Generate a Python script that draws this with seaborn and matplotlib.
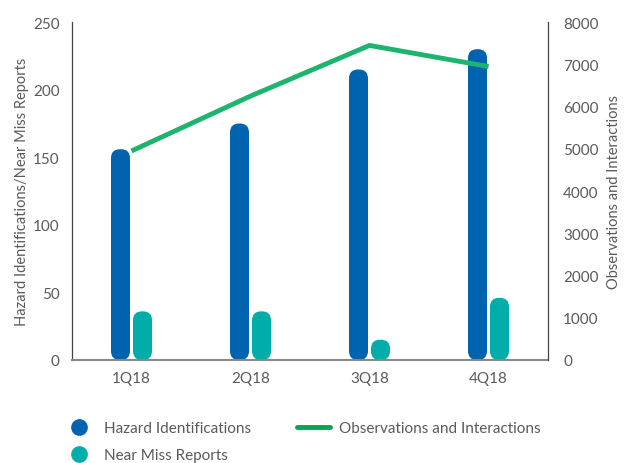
import numpy as np
import pandas as pd
import matplotlib
matplotlib.use("Agg")
import matplotlib.pyplot as plt
import seaborn as sns
from matplotlib.patches import FancyBboxPatch
from matplotlib.lines import Line2D

quarters = ["1Q18", "2Q18", "3Q18", "4Q18"]
hazard = [156, 175, 215, 230]
near_miss = [36, 36, 15, 46]
observations = [4950, 6250, 7450, 6950]

c_hazard = "#0063B0"
c_near = "#00ADA9"
c_line = "#1DB46E"
c_text = "#5a5a5a"

sns.set_theme(style="white")
plt.rcParams['font.family'] = ['Lato', 'DejaVu Sans']

df = pd.DataFrame({
    "quarter": quarters * 2,
    "value": hazard + near_miss,
    "series": ["Hazard Identifications"] * 4 + ["Near Miss Reports"] * 4,
})

fig = plt.figure(figsize=(6.25, 4.64), dpi=100)
ax = fig.add_axes([0.1152, 0.222, 0.7616, 0.728])
sns.barplot(data=df, x="quarter", y="value", hue="series",
            palette=[c_hazard, c_near], width=0.37, ax=ax, legend=False,
            saturation=1)
ax.set_xlim(-0.5, 3.5)
ax.set_ylim(0, 250)

# replace rectangles with rounded bars
fig.canvas.draw()
bbox = ax.get_window_extent()
xpp = (ax.get_xlim()[1] - ax.get_xlim()[0]) / bbox.width
ypp = (ax.get_ylim()[1] - ax.get_ylim()[0]) / bbox.height
gap = 1.5 * xpp
r = 9 * xpp
patches = list(ax.patches)
for p in patches:
    x, y = p.get_x(), p.get_y()
    w, h = p.get_width(), p.get_height()
    col = p.get_facecolor()
    p.remove()
    fb = FancyBboxPatch((x + gap, y), w - 2 * gap, h,
                        boxstyle=f"round,pad=0,rounding_size={r}",
                        mutation_aspect=ypp / xpp,
                        facecolor=col, edgecolor="none", zorder=2)
    ax.add_patch(fb)

ax2 = ax.twinx()
sns.lineplot(x=np.arange(len(quarters)), y=observations, ax=ax2,
             color=c_line, linewidth=3.5, solid_capstyle="butt")
ax2.set_ylim(0, 8000)
ax2.set_yticks(range(0, 8001, 1000))
ax.set_yticks(range(0, 251, 50))

for a in (ax, ax2):
    for s in a.spines.values():
        s.set_visible(False)
ax2.spines["right"].set_visible(True)
ax2.spines["right"].set_color("#444444")
ax2.spines["right"].set_linewidth(0.9)
ax.spines["left"].set_visible(True)
ax.spines["left"].set_color("#444444")
ax.spines["left"].set_linewidth(0.9)
ax.spines["bottom"].set_visible(True)
ax.spines["bottom"].set_color("#888888")
ax.spines["bottom"].set_linewidth(1.5)

ax.set_xlabel("")
ax.set_ylabel("Hazard Identifications/Near Miss Reports", color=c_text, fontsize=10.5, labelpad=3)
ax2.set_ylabel("Observations and Interactions", color=c_text, fontsize=10.5, labelpad=6)
ax.tick_params(axis="both", colors=c_text, labelsize=11, length=0, pad=9)
ax.tick_params(axis="x", pad=8)
ax2.tick_params(axis="y", colors=c_text, labelsize=11, length=0, pad=11)
ax.set_xticks(range(len(quarters)))
ax.set_xticklabels(quarters)

handles = [
    Line2D([], [], marker="o", linestyle="none", markersize=11, color=c_hazard),
    Line2D([], [], marker="o", linestyle="none", markersize=11, color=c_near),
    Line2D([], [], color="#00A651", linewidth=3.5),
]
labels = ["Hazard Identifications", "Near Miss Reports", "Observations and Interactions"]
leg = fig.legend(handles, labels, ncol=2, loc="upper left", bbox_to_anchor=(0.077, 0.12),
                 frameon=False, fontsize=11, handlelength=2.2, columnspacing=3.0,
                 labelspacing=0.85, handletextpad=0.55, labelcolor=c_text)

fig.savefig("out.png", dpi=100)
